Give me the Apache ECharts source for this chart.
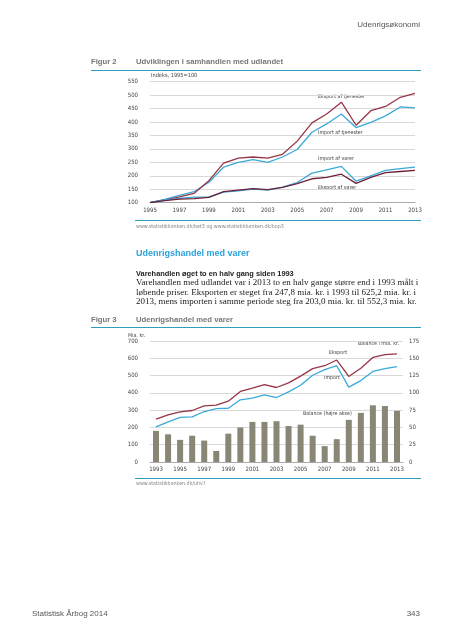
<!DOCTYPE html>
<html><head><meta charset="utf-8">
<script src="https://cdn.jsdelivr.net/npm/echarts@6/dist/echarts.min.js"></script>
<style>html,body{margin:0;padding:0;background:#fff}#c{width:452px;height:640px}</style>
</head><body><div id="c"></div>
<script>
// ---- Figur 2 data (indeks, 1995=100)
const years1 = ['1995','1996','1997','1998','1999','2000','2001','2002','2003','2004','2005','2006','2007','2008','2009','2010','2011','2012','2013'];
const eksportTjenester = [100,110,122,135,182,247,266,270,266,280,329,397,430,474,388,442,458,492,507];
const importTjenester  = [100,112,127,141,176,232,250,260,250,270,298,362,393,430,379,399,423,456,453];
const importVarer      = [100,110,116,121,122,139,144,151,147,158,175,210,222,235,180,200,220,227,232];
const eksportVarer     = [100,108,113,115,120,141,147,152,149,157,171,189,194,206,172,194,212,216,220];
const yTicks1 = {min:100, max:550, step:50};

// ---- Figur 3 data (mia. kr.)
const years2 = ['1993','1994','1995','1996','1997','1998','1999','2000','2001','2002','2003','2004','2005','2006','2007','2008','2009','2010','2011','2012','2013'];
const eksport = [248,272,290,298,325,329,352,408,427,447,431,458,497,540,557,590,495,542,605,621,625];
const importV = [203,232,258,261,292,309,311,360,369,389,373,406,444,502,534,557,433,471,524,540,552];
const balance = [45,40,32,38,31,16,41,50,58,58,59,52,54,38,23,33,61,71,82,81,74];
const yTicksL = {min:0, max:700, step:100};
const yTicksR = {min:0, max:175, step:25};

const NARROW = "'Liberation Sans Narrow','DejaVu Sans Condensed',sans-serif";
const SANS = "'Liberation Sans',Arial,sans-serif";
const SERIF = "'Liberation Serif','DejaVu Serif',serif";
const RED = '#963546', DARKRED = '#6e1f38', BLUE = '#3aa9d9', BAR = '#898676', TEAL = '#2f9dc0';

function t(text, x, y, size, o) {
  o = o || {};
  return {type:'text', x:x, y:y, silent:true, style:{text:text, fill:o.fill||'#444',
    font:(o.weight||'normal')+' '+size+'px '+(o.family||NARROW), textAlign:o.align||'left', textVerticalAlign:'middle'}};
}
function ln(x1,y1,x2,y2,c,w){return {type:'line',silent:true,shape:{x1:x1,y1:y1,x2:x2,y2:y2},style:{stroke:c,lineWidth:w||1}};}

const axisLbl = {fontSize:6, color:'#444', fontFamily:NARROW};
const split = {show:true, lineStyle:{color:'#d9d9d9', width:1}};

const chart = echarts.init(document.getElementById('c'), null, {renderer:'canvas'});
chart.setOption({
  backgroundColor:'#fff',
  animation:false,
  grid:[
    {left:150, top:81.7, width:265, height:121},
    {left:150, top:341, width:253, height:121}
  ],
  xAxis:[
    {gridIndex:0, type:'category', data:years1, boundaryGap:false,
     axisLine:{lineStyle:{color:'#aaa'}}, axisTick:{show:false},
     axisLabel:Object.assign({interval:1, margin:5}, axisLbl)},
    {gridIndex:1, type:'category', data:years2, boundaryGap:true,
     axisLine:{lineStyle:{color:'#aaa'}}, axisTick:{show:false},
     axisLabel:Object.assign({interval:1, margin:4}, axisLbl)}
  ],
  yAxis:[
    {gridIndex:0, type:'value', min:yTicks1.min, max:yTicks1.max, interval:yTicks1.step,
     axisLine:{show:false}, axisTick:{show:false}, splitLine:split,
     axisLabel:Object.assign({margin:12}, axisLbl)},
    {gridIndex:1, type:'value', min:yTicksL.min, max:yTicksL.max, interval:yTicksL.step,
     axisLine:{show:false}, axisTick:{show:false}, splitLine:split,
     axisLabel:Object.assign({margin:12}, axisLbl)},
    {gridIndex:1, type:'value', position:'right', min:yTicksR.min, max:yTicksR.max, interval:yTicksR.step,
     axisLine:{show:false}, axisTick:{show:false}, splitLine:{show:false},
     axisLabel:Object.assign({margin:6}, axisLbl)}
  ],
  series:[
    {type:'line', xAxisIndex:0, yAxisIndex:0, data:importTjenester, symbol:'none', lineStyle:{color:BLUE, width:1.3}, z:3},
    {type:'line', xAxisIndex:0, yAxisIndex:0, data:eksportTjenester, symbol:'none', lineStyle:{color:RED, width:1.3}, z:3},
    {type:'line', xAxisIndex:0, yAxisIndex:0, data:importVarer, symbol:'none', lineStyle:{color:BLUE, width:1.3}, z:3},
    {type:'line', xAxisIndex:0, yAxisIndex:0, data:eksportVarer, symbol:'none', lineStyle:{color:DARKRED, width:1.3}, z:4},
    {type:'bar', xAxisIndex:1, yAxisIndex:2, data:balance, barWidth:6, itemStyle:{color:BAR}},
    {type:'line', xAxisIndex:1, yAxisIndex:1, data:importV, symbol:'none', lineStyle:{color:BLUE, width:1.3}, z:3},
    {type:'line', xAxisIndex:1, yAxisIndex:1, data:eksport, symbol:'none', lineStyle:{color:RED, width:1.3}, z:3}
  ],
  graphic:[
    t('Udenrigsøkonomi', 420, 25, 8, {align:'right', family:SANS, fill:'#555'}),
    t('Figur 2', 91, 61.5, 7.7, {family:SANS, weight:'bold', fill:'#777'}),
    t('Udviklingen i samhandlen med udlandet', 136, 61.5, 7.7, {family:SANS, weight:'bold', fill:'#777'}),
    ln(91, 70.5, 421, 70.5, TEAL, 1),
    t('Indeks, 1995=100', 151, 75.5, 5.6, {}),
    t('Eksport af tjenester', 318, 97, 5.3, {}),
    t('Import af tjenester', 318, 133, 5.3, {}),
    t('Import af varer', 318, 159, 5.3, {}),
    t('Eksport af varer', 318, 187.5, 5.3, {}),
    ln(135, 220.5, 421, 220.5, TEAL, 1),
    t('www.statistikbanken.dk/bet3 og www.statistikbanken.dk/bop3', 136, 226.5, 5.3, {fill:'#888'}),
    t('Udenrigshandel med varer', 136, 254, 9, {family:SANS, weight:'bold', fill:'#2aa3dc'}),
    t('Varehandlen øget to en halv gang siden 1993', 136, 273.5, 7.4, {family:SANS, weight:'bold', fill:'#222'}),
    t('Varehandlen med udlandet var i 2013 to en halv gange større end i 1993 målt i', 136, 283, 9, {family:SERIF, fill:'#222'}),
    t('løbende priser. Eksporten er steget fra 247,8 mia. kr. i 1993 til 625,2 mia. kr. i', 136, 292.5, 9, {family:SERIF, fill:'#222'}),
    t('2013, mens importen i samme periode steg fra 203,0 mia. kr. til 552,3 mia. kr.', 136, 302, 9, {family:SERIF, fill:'#222'}),
    t('Figur 3', 91, 320, 7.7, {family:SANS, weight:'bold', fill:'#777'}),
    t('Udenrigshandel med varer', 136, 320, 7.7, {family:SANS, weight:'bold', fill:'#777'}),
    ln(91, 327.5, 421, 327.5, TEAL, 1),
    t('Mia. kr.', 128, 336, 5.3, {}),
    t('Balance i mia. kr.', 399, 344, 5.3, {align:'right'}),
    t('Eksport', 329, 353, 5.3, {}),
    t('Import', 324, 378, 5.3, {}),
    t('Balance (højre akse)', 303, 414, 5.3, {}),
    ln(135, 478.5, 421, 478.5, TEAL, 1),
    t('www.statistikbanken.dk/uhv7', 136, 484, 5.3, {fill:'#888'}),
    t('Statistisk Årbog 2014', 32, 614, 8, {family:SANS, fill:'#555'}),
    t('343', 420, 614, 8, {family:SANS, fill:'#555', align:'right'})
  ]
});
</script>
</body></html>
